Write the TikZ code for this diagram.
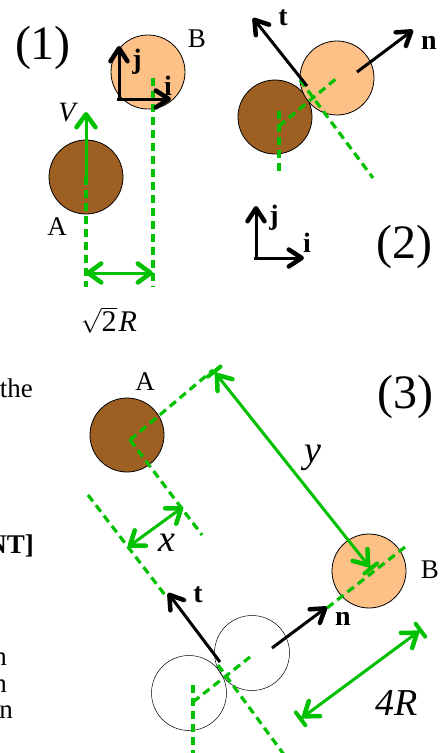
\documentclass[tikz,border=0pt]{standalone}
\usepackage{fontspec}
\setmainfont{Liberation Serif}
\usetikzlibrary{arrows.meta}
\definecolor{brn}{RGB}{158,96,34}
\definecolor{org}{RGB}{253,192,135}
\definecolor{grn}{RGB}{0,192,0}
\begin{document}
\begin{tikzpicture}[x=1pt,y=-1pt,
  ball/.style={circle,draw,line width=0.8pt,minimum size=74pt,inner sep=0pt},
  ghost/.style={circle,draw,line width=0.5pt,minimum size=75pt,inner sep=0pt},
  gdash/.style={draw=grn,line width=3.2pt,dash pattern=on 8pt off 5pt},
  garr/.style={draw=grn,line width=3pt,-{Straight Barb[length=13pt,width=19pt,line width=4.5pt 0,round]}},
  gdbl/.style={draw=grn,line width=3pt,{Straight Barb[length=13pt,width=19pt,line width=4.5pt 0,round]}-{Straight Barb[length=13pt,width=19pt,line width=4.5pt 0,round]}},
  gbar/.style={draw=grn,line width=3pt,{Bar[width=16pt,line width=4pt 0,round]Straight Barb[length=13pt,width=19pt,line width=4.5pt 0,round]}-{Straight Barb[length=13pt,width=19pt,line width=4.5pt 0,round]Bar[width=16pt,line width=4pt 0,round]}},
  barr/.style={draw=black,line width=3pt,-{Straight Barb[length=13pt,width=17pt,line width=4.5pt 0,round]}},
  lbl/.style={inner sep=0pt,font=\fontsize{27}{27}\selectfont},
  blbl/.style={inner sep=0pt,font=\fontsize{28}{28}\selectfont\bfseries},
  ilbl/.style={inner sep=0pt,font=\fontsize{38}{38}\selectfont\itshape},
  plbl/.style={inner sep=0pt,font=\fontsize{48}{48}\selectfont},
  txt/.style={inner sep=0pt,font=\fontsize{27}{27}\selectfont}
]
\useasboundingbox (0,0) rectangle (447,753);

% ---------------- Panel (1) ----------------
\node[plbl] (p1) at (43,48) {(1)};
\node[ball,fill=brn] (A1) at (86,177) {};
\node[ball,fill=org] (B1) at (148,72) {};
\node[lbl] (lA1) at (57,227) {A};
\node[lbl] (lB1) at (197,39) {B};
\coordinate (V1) at (86,112);
\coordinate (A1d) at (86,287);
\coordinate (B1t) at (153,78);
\coordinate (B1d) at (153,287);
\coordinate (w1) at (86,273);
\coordinate (w2) at (153,273);
\draw[gdash] (A1.center) -- (A1d);
\draw[gdash] (B1t) -- (B1d);
\draw[garr] (A1.center) -- (V1);
\node[inner sep=0pt,font=\fontsize{28}{28}\selectfont\itshape] (lV) at (67,113) {V};
\draw[gdbl] (w1) -- (w2);
\node[inner sep=0pt,font=\fontsize{30}{30}\selectfont] (lR1) at (109,320) {$\sqrt{\mbox{2}}$\kern2pt\textit{R}};
\coordinate (o1) at (119,101);
\coordinate (j1) at (119,46);
\coordinate (i1) at (171,99);
\coordinate (o1b) at (117,99);
\draw[barr] (o1) -- (j1);
\draw[barr] (o1b) -- (i1);
\node[blbl] (lj1) at (137,62) {j};
\node[blbl] (li1) at (168,86) {i};

% ---------------- Panel (2) ----------------
\node[ball,fill=brn] (A2) at (275,117) {};
\node[ball,fill=org] (B2) at (337,78) {};
\coordinate (c2) at (279,126);
\coordinate (c2t) at (279,111);
\coordinate (c2b) at (279,173);
\coordinate (tg2a) at (300,80);
\coordinate (tg2b) at (373,178);
\draw[gdash] (c2t) -- (c2b);
\draw[gdash] (c2) -- (B2.center);
\draw[gdash] (tg2a) -- (tg2b);
\coordinate (n2s) at (357,72);
\coordinate (n2e) at (413,30);
\coordinate (t2s) at (307,86);
\coordinate (t2e) at (253,18);
\draw[barr] (n2s) -- (n2e);
\draw[barr] (t2s) -- (t2e);
\node[blbl] (ln2) at (429,43) {n};
\node[blbl] (lt2) at (283,18) {t};
\coordinate (o2) at (256,260);
\coordinate (o2b) at (254,258);
\coordinate (j2) at (256,206);
\coordinate (i2) at (304,258);
\draw[barr] (o2) -- (j2);
\draw[barr] (o2b) -- (i2);
\node[blbl] (lj2) at (274,218) {j};
\node[blbl] (li2) at (307,243) {i};
\node[plbl] (p2) at (404,247) {(2)};

% ---------------- Panel (3) ----------------
\node[plbl] (p3) at (405,397) {(3)};
\node[ball,fill=brn] (A3) at (127,435) {};
\node[lbl] (lA3) at (145,382) {A};
\node[ball,fill=org] (B3) at (369,571) {};
\node[lbl] (lB3) at (430,570) {B};
\node[ghost] (T1) at (189,693) {};
\node[ghost] (T2) at (252,653) {};
\coordinate (c3) at (130,440);
\coordinate (ytop) at (213,370);
\coordinate (c3b) at (202,535);
\coordinate (l1) at (88,495);
\coordinate (l2) at (165,595);
\draw[gdash] (c3) -- (ytop);
\draw[gdash] (c3) -- (c3b);
\draw[gdash] (l1) -- (l2);
\coordinate (xa) at (128,547);
\coordinate (xb) at (183,507);
\draw[gdbl] (xa) -- (xb);
\node[ilbl] (lx) at (167,543) {x};
\coordinate (yb) at (372,570);
\draw[gbar] (ytop) -- (yb);
\node[ilbl] (ly) at (313,458) {y};
\coordinate (bd1) at (405,547);
\coordinate (bd2) at (327,608);
\draw[gdash] (bd1) -- (bd2);
\coordinate (n3s) at (272,648);
\coordinate (n3e) at (327,607);
\draw[barr] (n3s) -- (n3e);
\node[blbl] (ln3) at (343,619) {n};
\coordinate (t3s) at (220,662);
\coordinate (t3e) at (168,593);
\draw[barr] (t3s) -- (t3e);
\node[blbl] (lt3) at (198,595) {t};
\coordinate (v3t) at (193,685);
\coordinate (v3b) at (193,756);
\coordinate (c3c) at (193,702);
\coordinate (d3e) at (250,657);
\coordinate (tg3a) at (218,665);
\coordinate (tg3b) at (285,756);
\draw[gdash] (v3t) -- (v3b);
\draw[gdash] (c3c) -- (d3e);
\draw[gdash] (tg3a) -- (tg3b);
\coordinate (fa) at (299,720);
\coordinate (fb) at (422,629);
\draw[gbar] (fa) -- (fb);
\node[ilbl] (l4R) at (397,703) {4R};

% ---------------- cut-off text on the left ----------------
\node[txt,anchor=base east] (tx1) at (33,397) {the};
\node[txt,anchor=base east,font=\fontsize{27}{27}\selectfont\bfseries] (tx2) at (34,553) {NT]};
\node[txt,anchor=base east] (tx3) at (7,665) {n};
\node[txt,anchor=base east] (tx4) at (7,692) {n};
\node[txt,anchor=base east] (tx5) at (13,718) {n};
\end{tikzpicture}
\end{document}
